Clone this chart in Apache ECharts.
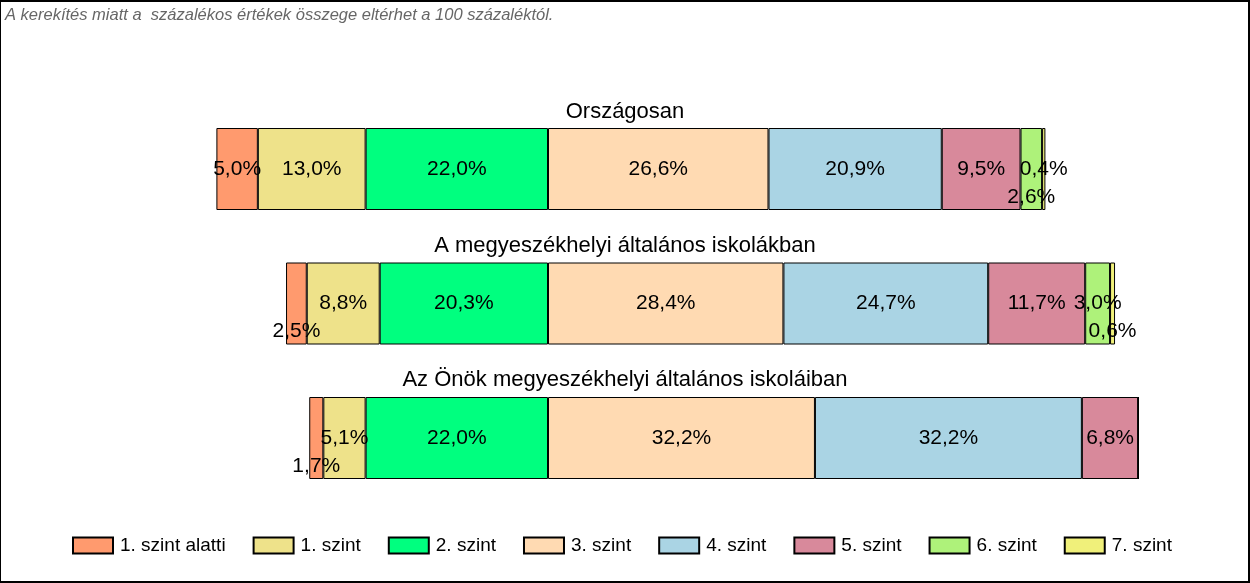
<!DOCTYPE html>
<html>
<head>
<meta charset="utf-8">
<script src="https://cdn.jsdelivr.net/npm/echarts@6/dist/echarts.min.js"></script>
<style>
html,body{margin:0;padding:0;background:#fff;}
#wrap{position:relative;width:1250px;height:583px;}
#chart{width:1250px;height:583px;}
#frame{position:absolute;left:0;top:0;width:1250px;height:583px;box-sizing:border-box;border:2px solid #000;border-left-width:1px;pointer-events:none;}
</style>
</head>
<body>
<div id="wrap"><div id="chart"></div><div id="frame"></div></div>
<script>
// ---- data ----
const note = 'A kerekítés miatt a  százalékos értékek összege eltérhet a 100 százaléktól.';
const groups = ['Országosan', 'A megyeszékhelyi általános iskolákban', 'Az Önök megyeszékhelyi általános iskoláiban'];
const levels = ['1. szint alatti', '1. szint', '2. szint', '3. szint', '4. szint', '5. szint', '6. szint', '7. szint'];
const orszagos = [5.0, 13.0, 22.0, 26.6, 20.9, 9.5, 2.6, 0.4];
const megyeszekhelyi = [2.5, 8.8, 20.3, 28.4, 24.7, 11.7, 3.0, 0.6];
const onok = [1.7, 5.1, 22.0, 32.2, 32.2, 6.8, 0, 0];
const rows = [orszagos, megyeszekhelyi, onok];
// levels drawn to the left of the 2/3 boundary
const leftLevels = 3;

// ---- style ----
const colors = ['#FF9A6E', '#EEE28A', '#00FF7F', '#FFDAB2', '#AAD4E4', '#D8899B', '#AEF27A', '#F0F07A'];
// labels of thin segments that are moved below the bar centre: [group, level]
const shiftedLabels = [[0, 6], [1, 0], [1, 7], [2, 0]];
const fontFam = 'Liberation Sans, Arial, sans-serif';

function fmt(v) { return Math.abs(v).toFixed(1).replace('.', ',') + '%'; }

const order = [2, 1, 0, 3, 4, 5, 6, 7];
const series = order.map(function (li) {
  const sign = li < leftLevels ? -1 : 1;
  return {
    name: levels[li],
    type: 'bar',
    stack: 'total',
    barWidth: 82,
    itemStyle: { color: colors[li], borderColor: '#000', borderWidth: 1 },
    label: {
      show: true, position: 'inside', color: '#000',
      fontSize: 21, fontFamily: fontFam,
      formatter: function (p) { return p.value === 0 ? '' : fmt(p.value); }
    },
    data: rows.map(function (r, gi) {
      const item = { value: sign * r[li] };
      if (shiftedLabels.some(function (s) { return s[0] === gi && s[1] === li; })) {
        item.label = { offset: [0, 28] };
      }
      return item;
    })
  };
});

const chart = echarts.init(document.getElementById('chart'));
chart.setOption({
  animation: false,
  backgroundColor: '#fff',
  title: [
    { text: note, left: 0, top: 2, textStyle: { fontSize: 16.5, fontStyle: 'italic', fontWeight: 'normal', color: '#666', fontFamily: fontFam } },
    { text: groups[0], left: 'center', top: 96, textStyle: { fontSize: 22, fontWeight: 'normal', color: '#000', fontFamily: fontFam } },
    { text: groups[1], left: 'center', top: 230, textStyle: { fontSize: 22, fontWeight: 'normal', color: '#000', fontFamily: fontFam } },
    { text: groups[2], left: 'center', top: 364, textStyle: { fontSize: 22, fontWeight: 'normal', color: '#000', fontFamily: fontFam } }
  ],
  legend: {
    data: levels,
    icon: 'rect',
    left: 67, top: 531,
    itemWidth: 40, itemHeight: 16, itemGap: 27,
    textStyle: { fontSize: 19, color: '#000', fontFamily: fontFam, padding: [0, 0, 0, 2] }
  },
  grid: { left: 216.4, right: 38.8, top: 101.75, height: 403.5 },
  xAxis: { type: 'value', min: -40, max: 80, show: false },
  yAxis: { type: 'category', data: groups, inverse: true, show: false },
  series: series
});
</script>
</body>
</html>
